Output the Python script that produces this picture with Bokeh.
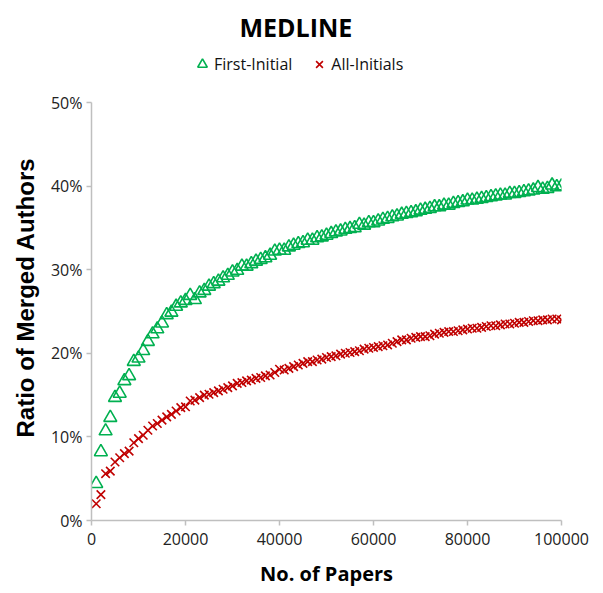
from bokeh.plotting import figure
from bokeh.models import Legend, LegendItem, PrintfTickFormatter, FixedTicker, Range1d, BasicTickFormatter, Title
from bokeh.embed import file_html
from bokeh.resources import INLINE

papers = [i * 1000 for i in range(1, 101)]

first_initial = [
    4.4, 8.2, 10.7, 12.3, 14.7, 15.2, 16.7, 17.3, 19.0, 19.4,
    20.3, 21.4, 22.3, 22.9, 23.6, 24.6, 24.9, 25.6, 26.0, 26.3,
    26.9, 26.4, 27.2, 27.5, 28.0, 28.3, 28.6, 29.0, 29.3, 29.7,
    29.9, 30.4, 30.4, 30.7, 31.0, 31.2, 31.4, 31.7, 32.2, 32.3,
    32.3, 32.7, 32.9, 33.1, 33.2, 33.5, 33.5, 33.8, 33.9, 34.1,
    34.3, 34.5, 34.6, 34.8, 34.9, 35.0, 35.4, 35.3, 35.6, 35.6,
    35.8, 36.0, 36.1, 36.3, 36.4, 36.6, 36.7, 36.8, 36.9, 37.1,
    37.2, 37.3, 37.5, 37.5, 37.7, 37.7, 37.9, 38.0, 38.1, 38.3,
    38.3, 38.4, 38.5, 38.6, 38.7, 38.8, 38.9, 38.9, 39.1, 39.1,
    39.2, 39.3, 39.4, 39.5, 39.8, 39.6, 39.7, 40.1, 39.9, 40.0,
]

all_initials = [
    2.0, 3.1, 5.6, 5.9, 7.0, 7.5, 8.0, 8.3, 9.3, 9.8,
    10.2, 10.8, 11.3, 11.6, 12.0, 12.4, 12.7, 13.1, 13.5, 13.6,
    14.3, 14.4, 14.7, 15.0, 15.1, 15.3, 15.5, 15.7, 15.9, 16.1,
    16.4, 16.5, 16.7, 16.8, 17.0, 17.1, 17.3, 17.4, 17.7, 18.1,
    18.0, 18.2, 18.4, 18.6, 18.8, 19.0, 19.0, 19.2, 19.3, 19.5,
    19.6, 19.7, 19.9, 20.0, 20.1, 20.2, 20.3, 20.5, 20.6, 20.7,
    20.8, 20.9, 21.0, 21.2, 21.4, 21.6, 21.6, 21.8, 21.9, 22.0,
    22.0, 22.1, 22.3, 22.4, 22.5, 22.6, 22.6, 22.7, 22.8, 22.9,
    23.0, 23.0, 23.1, 23.2, 23.3, 23.3, 23.4, 23.5, 23.5, 23.6,
    23.7, 23.7, 23.8, 23.9, 23.9, 24.0, 24.0, 24.1, 24.1, 24.0,
]

x_ticks = [0, 20000, 40000, 60000, 80000, 100000]
y_ticks = [0, 10, 20, 30, 40, 50]
series_names = ["First-Initial", "All-Initials"]

FONT = "Open Sans"

# frame extends above the 50% line to host the legend; axis line is bounded to 0..50
FRAME_TOP = 48
Y_END = 50 * (520 - FRAME_TOP) / (520 - 102)

p = figure(width=603, height=593, output_backend="svg", toolbar_location=None,
           x_range=Range1d(0, 100000), y_range=Range1d(0, Y_END),
           min_border_left=91, min_border_right=42, min_border_bottom=73,
           min_border_top=FRAME_TOP)

p.title.text = "MEDLINE"
p.title.align = "left"
p.title.offset = 148
p.title.text_font = FONT
p.title.text_font_size = "25px"
p.title.text_font_style = "bold"
p.title.text_color = "#000000"
p.title.standoff = 10

ylab = Title(text="Ratio of Merged Authors", align="left", offset=83,
             text_font="Liberation Sans", text_font_size="24px",
             text_font_style="bold", text_color="#000000", standoff=17)
p.add_layout(ylab, "left")

r1 = p.scatter(papers, first_initial, marker="triangle", size=13, fill_alpha=0,
               line_color="#00B050", line_width=1.6)
r2 = p.scatter(papers, all_initials, marker="x", size=12,
               line_color="#C00000", line_width=1.6)

legend = Legend(items=[LegendItem(label=series_names[0], renderers=[r1]),
                       LegendItem(label=series_names[1], renderers=[r2])],
                orientation="horizontal", location=(99, 444),
                border_line_alpha=0, background_fill_alpha=0,
                label_text_font=FONT, label_text_font_size="16px",
                label_text_color="#111111",
                glyph_width=24, glyph_height=24, label_standoff=0, spacing=15,
                margin=0, padding=0)
p.add_layout(legend)

p.grid.visible = False
p.outline_line_color = None

for ax in (p.xaxis[0], p.yaxis[0]):
    ax.axis_line_color = "#BFBFBF"
    ax.axis_line_width = 1.5
    ax.major_tick_line_color = "#BFBFBF"
    ax.major_tick_line_width = 1.5
    ax.major_tick_out = 5
    ax.major_tick_in = 0
    ax.minor_tick_line_color = None
    ax.major_label_text_font = FONT
    ax.major_label_text_font_size = "16px"
    ax.major_label_text_color = "#222222"
    ax.axis_label_text_font_style = "bold"
    ax.axis_label_text_color = "#000000"

p.yaxis[0].bounds = (0, 50)
p.xaxis[0].ticker = FixedTicker(ticks=x_ticks)
p.xaxis[0].formatter = BasicTickFormatter(use_scientific=False)
p.yaxis[0].ticker = FixedTicker(ticks=y_ticks)
p.yaxis[0].formatter = PrintfTickFormatter(format="%d%%")
p.xaxis[0].axis_label = "No. of Papers"
p.xaxis[0].axis_label_text_font = FONT
p.xaxis[0].axis_label_text_font_size = "20px"
p.xaxis[0].major_label_standoff = 7
p.yaxis[0].major_label_standoff = 4
p.xaxis[0].axis_label_standoff = 12

open("out.html", "w").write(file_html(p, INLINE))
